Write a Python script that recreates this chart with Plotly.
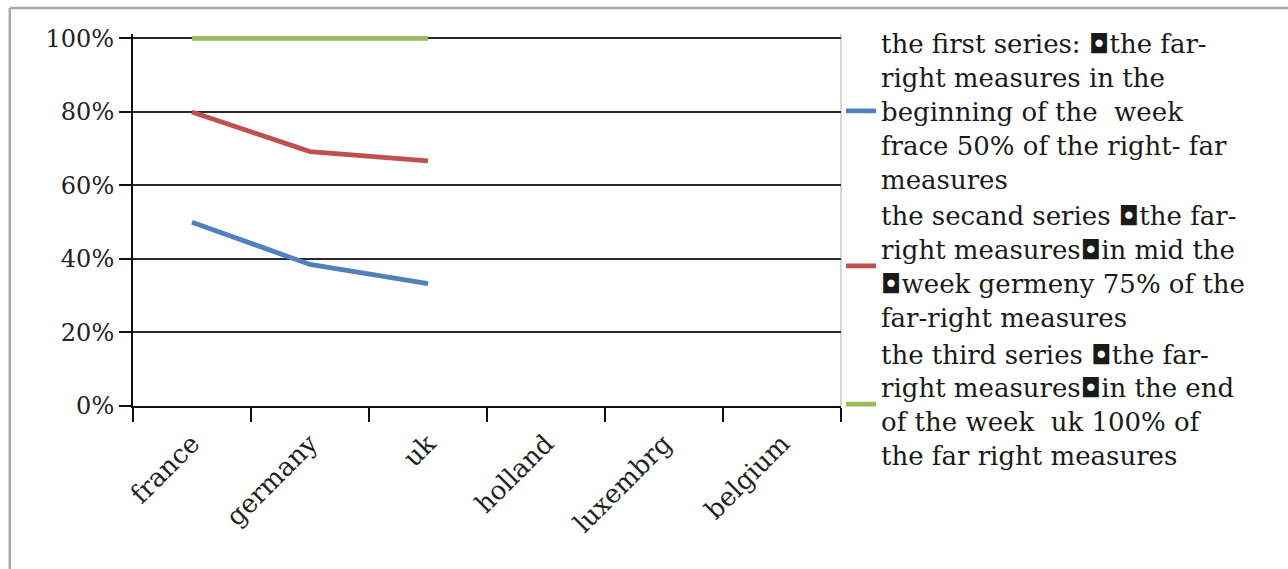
import plotly.graph_objects as go

# Countries on the category axis
countries = ["france", "germany", "uk", "holland", "luxembrg", "belgium"]

# Share of far-right measures per series (fractions of 1)
series1_x = ["france", "germany", "uk"]
series1_y = [0.50, 0.385, 0.333]
series2_x = ["france", "germany", "uk"]
series2_y = [0.80, 0.692, 0.667]
series3_x = ["france", "germany", "uk"]
series3_y = [1.00, 1.00, 1.00]

series_names = [
    "the first series: \u25d8the far-<br>right measures in the<br>"
    "beginning of the\u00a0 week<br>frace 50% of the right- far<br>measures",
    "the secand series \u25d8the far-<br>right measures\u25d8in mid the<br>"
    "\u25d8week germeny 75% of the<br>far-right measures",
    "the third series \u25d8the far-<br>right measures\u25d8in the end<br>"
    "of the week\u00a0 uk 100% of<br>the far right measures",
]
series_colors = ["#4F81BD", "#C0504D", "#9BBB59"]

fig = go.Figure()
for xs, ys, name, color in zip(
    [series1_x, series2_x, series3_x],
    [series1_y, series2_y, series3_y],
    series_names,
    series_colors,
):
    fig.add_trace(
        go.Scatter(
            x=xs,
            y=ys,
            mode="lines",
            name=name,
            line=dict(color=color, width=4.8),
        )
    )

serif = "DejaVu Serif, Liberation Serif, serif"

# small headroom above 100% so the top series is not clipped
y_top = 1.012
plot_h = 368.0
top_margin = 38 - (y_top - 1.0) * plot_h

fig.update_layout(
    width=1288,
    height=569,
    margin=dict(l=133, r=447, t=top_margin, b=163),
    paper_bgcolor="white",
    plot_bgcolor="white",
    showlegend=True,
    legend=dict(
        x=1.0,
        xanchor="left",
        y=1.038,
        yanchor="top",
        font=dict(family=serif, size=26, color="#1a1a1a"),
        tracegroupgap=0,
        itemwidth=30,
        valign="middle",
        bgcolor="rgba(0,0,0,0)",
        maxheight=1.0,
    ),
    xaxis=dict(
        type="category",
        categoryorder="array",
        categoryarray=countries,
        range=[-0.5, len(countries) - 0.5],
        tickmode="array",
        tickvals=countries,
        ticktext=countries,
        tickson="boundaries",
        ticks="outside",
        ticklen=14,
        tickwidth=2,
        tickcolor="#111",
        tickangle=-45,
        ticklabelstandoff=10,
        tickfont=dict(family=serif, size=26, color="#222"),
        showline=True,
        linecolor="#111",
        linewidth=2,
        showgrid=False,
        zeroline=False,
    ),
    yaxis=dict(
        range=[0, y_top],
        tickmode="array",
        tickvals=[0, 0.2, 0.4, 0.6, 0.8, 1.0],
        tickformat=".0%",
        ticks="outside",
        ticklen=12,
        tickwidth=2,
        tickcolor="#111",
        tickfont=dict(family=serif, size=24, color="#222"),
        showline=True,
        linecolor="#111",
        linewidth=2,
        showgrid=True,
        gridcolor="#2a2a2a",
        gridwidth=1.5,
        zeroline=False,
    ),
    shapes=[
        # light right edge of the plotting area
        dict(type="line", xref="paper", yref="paper", x0=1.0, x1=1.0, y0=0, y1=1,
             line=dict(color="#c8c8c8", width=1.5), layer="below"),
        # outer chart frame (left and top)
        dict(type="line", xref="paper", yref="paper", x0=-0.174, x1=-0.174, y0=-0.5, y1=1.07,
             line=dict(color="#a8a8a8", width=2.5)),
        dict(type="line", xref="paper", yref="paper", x0=-0.174, x1=1.7, y0=1.07, y1=1.07,
             line=dict(color="#a8a8a8", width=2.5)),
    ],
)

fig.write_html("out.html")
